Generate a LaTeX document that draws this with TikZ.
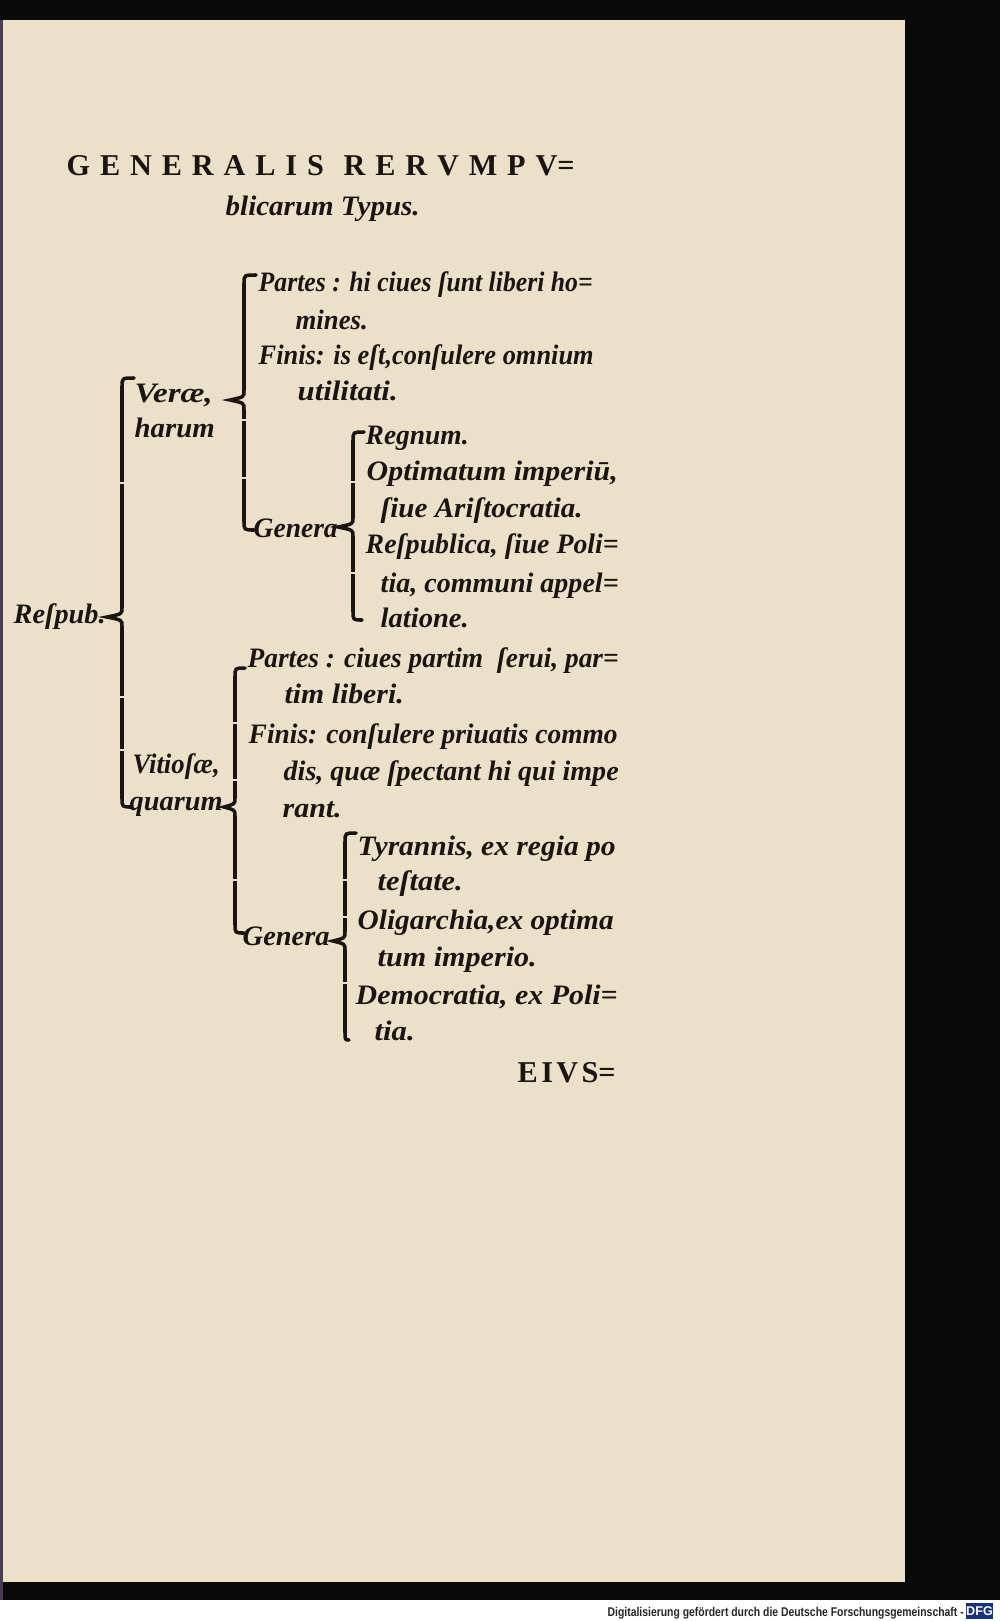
\documentclass[tikz,border=0pt]{standalone}
\usepackage{graphicx}
\usepackage{fontspec}
\setmainfont{Liberation Serif}
\newfontfamily\creditfont{Liberation Sans}

\definecolor{page}{RGB}{235,225,201}
\definecolor{ink}{RGB}{26,21,18}
\definecolor{scan}{RGB}{10,9,9}
\definecolor{spine}{RGB}{72,62,84}
\definecolor{dfgblue}{RGB}{22,50,122}

\newlength{\pxu}
\setlength{\pxu}{0.01cm}
% stretch or squeeze one printed line to its width in the scan
\newcommand{\fitto}[2]{\resizebox{#1\pxu}{\height}{#2}}

\tikzset{
  textline/.style={anchor=base west, inner sep=0pt, text=ink, font=\fontsize{8}{9}\selectfont\bfseries\itshape},
  capsline/.style={anchor=base west, inner sep=0pt, text=ink, font=\fontsize{8.6}{10}\selectfont\bfseries},
  typebrace/.style={draw=ink, line width=1pt, line cap=round},
}

% x, top, top hook, middle, tip, bottom, bottom hook, gaps between the type pieces
\newcommand{\drawbrace}[8]{%
  \draw[typebrace] (#3,#2) .. controls (#1,#2) .. (#1,#2+9) -- (#1,#4-9)
    .. controls (#1,#4-3) .. (#5,#4) .. controls (#1,#4+3) .. (#1,#4+9)
    -- (#1,#6-9) .. controls (#1,#6) .. (#7,#6);
  \foreach \g in {#8} \fill[page] (#1-3,\g-1) rectangle (#1+3,\g+1);
}

\begin{document}
\begin{tikzpicture}[x=0.01cm,y=-0.01cm]
\useasboundingbox (0,0) rectangle (1000,1621);

% the scan around the page
\fill[white] (0,0) rectangle (1000,1621);
\fill[scan] (0,0) rectangle (1000,1600);
\fill[spine] (0,20) rectangle (3,1600);
\fill[page] (3,20) rectangle (905,1582);

% heading
\node[capsline] (title) at (66,175) {\makebox[508\pxu][s]{G\hfill E\hfill N\hfill E\hfill R\hfill A\hfill L\hfill I\hfill S\hfill\hfill R\hfill E\hfill R\hfill V\hfill M\hfill P\hfill V=}};
\node[textline] (subtitle) at (225,215) {\fitto{194}{blicarum Typus.}};

% first level
\node[textline] (respub) at (13,623) {\fitto{92}{Reſpub.}};
\node[textline] (vera) at (134,402) {\fitto{78}{Veræ,}};
\node[textline] (verab) at (134,437) {\fitto{80}{harum}};
\node[textline] (vitiosa) at (132,773) {\fitto{87}{Vitioſæ,}};
\node[textline] (vitiosab) at (129,810) {\fitto{93}{quarum}};

% the true ones
\node[textline] (partesA) at (258,291) {\fitto{334}{Partes : hi ciues ſunt liberi ho=}};
\node[textline] (partesAb) at (295,329) {\fitto{72}{mines.}};
\node[textline] (finisA) at (258,364) {\fitto{335}{Finis: is eſt,conſulere omnium}};
\node[textline] (finisAb) at (297,400) {\fitto{100}{utilitati.}};
\node[textline] (generaA) at (253,537) {\fitto{84}{Genera}};
\node[textline] (regnum) at (365,444) {\fitto{103}{Regnum.}};
\node[textline] (optimatum) at (366,480) {\fitto{251}{Optimatum imperiū,}};
\node[textline] (optimatumb) at (380,517) {\fitto{202}{ſiue Ariſtocratia.}};
\node[textline] (respublica) at (365,553) {\fitto{253}{Reſpublica, ſiue Poli=}};
\node[textline] (respublicab) at (380,592) {\fitto{238}{tia, communi appel=}};
\node[textline] (respublicac) at (380,627) {\fitto{88}{latione.}};

% the faulty ones
\node[textline] (partesB) at (247,667) {\fitto{371}{Partes : ciues partim \ ſerui, par=}};
\node[textline] (partesBb) at (284,703) {\fitto{119}{tim liberi.}};
\node[textline] (finisB) at (248,743) {\fitto{369}{Finis: conſulere priuatis commo}};
\node[textline] (finisBb) at (283,780) {\fitto{335}{dis, quæ ſpectant hi qui impe}};
\node[textline] (finisBc) at (282,817) {\fitto{59}{rant.}};
\node[textline] (generaB) at (242,945) {\fitto{87}{Genera}};
\node[textline] (tyrannis) at (357,855) {\fitto{258}{Tyrannis, ex regia po}};
\node[textline] (tyrannisb) at (377,890) {\fitto{85}{teſtate.}};
\node[textline] (oligarchia) at (357,929) {\fitto{256}{Oligarchia,ex optima}};
\node[textline] (oligarchiab) at (377,966) {\fitto{159}{tum imperio.}};
\node[textline] (democratia) at (355,1004) {\fitto{262}{Democratia, ex Poli=}};
\node[textline] (democratiab) at (374,1040) {\fitto{40}{tia.}};

% catchword
\node[capsline] (custos) at (517,1082) {\makebox[98\pxu][s]{E\hfill I\hfill V\hfill S=}};

% braces
\drawbrace{122}{378}{134}{617}{107}{807}{132}{483,697,750}
\drawbrace{244}{275}{256}{400}{230}{530}{254}{420,478}
\drawbrace{353}{432}{364}{527}{338}{620}{362}{482,573}
\drawbrace{235}{668}{245}{807}{224}{933}{244}{723,780,880}
\drawbrace{345}{833}{356}{941}{333}{1040}{349}{880,917,983}

% credit line of the scan
\node[anchor=base west, inner sep=0pt, text=black!85, font=\creditfont\bfseries\fontsize{3.6}{4}\selectfont] (credit) at (607,1616) {\fitto{356}{Digitalisierung gefördert durch die Deutsche Forschungsgemeinschaft -}};
\node[fill=dfgblue, text=white, inner sep=0pt, minimum width=0.25cm, minimum height=0.16cm, font=\creditfont\bfseries\fontsize{3.6}{4}\selectfont] (dfg) at (979.5,1611) {DFG};
\end{tikzpicture}
\end{document}
